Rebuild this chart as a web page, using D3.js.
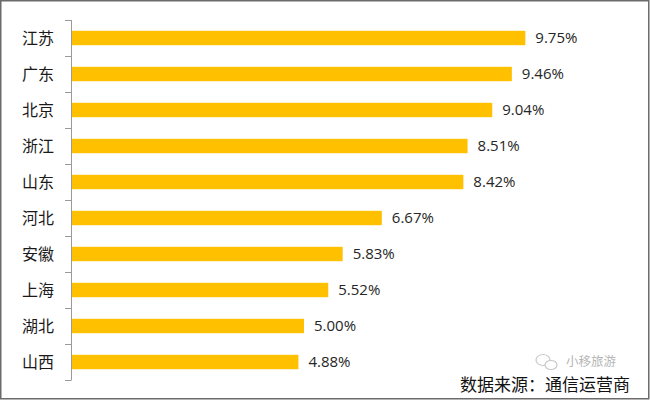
<!DOCTYPE html>
<html>
<head>
<meta charset="utf-8">
<script src="https://cdn.jsdelivr.net/npm/d3@7/dist/d3.min.js"></script>
<style>
  html, body { margin: 0; padding: 0; background: #fff; }
  svg { display: block; }
</style>
</head>
<body>
<svg id="chart" width="650" height="400"></svg>
<script>
const categories = ["江苏", "广东", "北京", "浙江", "山东", "河北", "安徽", "上海", "湖北", "山西"];
const values = [9.75, 9.46, 9.04, 8.51, 8.42, 6.67, 5.83, 5.52, 5.00, 4.88];
const valueLabels = ["9.75%", "9.46%", "9.04%", "8.51%", "8.42%", "6.67%", "5.83%", "5.52%", "5.00%", "4.88%"];
const sourceText = "数据来源：通信运营商";
const watermarkText = "小移旅游";

const svg = d3.select("#chart");
const W = 650, H = 400;

// border
svg.append("rect").attr("x", 0.75).attr("y", 0.75).attr("width", W - 2).attr("height", H - 2)
  .attr("fill", "#fff").attr("stroke", "#6b6b6b").attr("stroke-width", 1.5);

const x = d3.scaleLinear().domain([0, 12]).range([71, 71 + 12 * 46.6]);
const y = d3.scaleBand().domain(categories).range([20, 380]).paddingInner(0.6).paddingOuter(0.3);

// bars
svg.append("g").selectAll("rect").data(categories).join("rect")
  .attr("x", x(0))
  .attr("y", d => y(d))
  .attr("width", (d, i) => x(values[i]) - x(0))
  .attr("height", y.bandwidth())
  .attr("fill", "#FFC000");

// axis line + boundary ticks
const axisG = svg.append("g");
const [r0, r1] = y.range();
axisG.append("line").attr("x1", x(0) + 0.5).attr("x2", x(0) + 0.5).attr("y1", r0).attr("y2", r1)
  .attr("stroke", "#9a9a9a").attr("stroke-width", 1);
d3.range(categories.length + 1).forEach(i => {
  const ty = Math.round(r0 + i * y.step()) + 0.5;
  axisG.append("line").attr("x1", x(0) - 6).attr("x2", x(0) + 0.5).attr("y1", ty).attr("y2", ty)
    .attr("stroke", "#9a9a9a").attr("stroke-width", 1);
});

// category labels
svg.append("g").selectAll("text").data(categories).join("text")
  .attr("x", 54)
  .attr("y", d => y(d) + y.bandwidth() / 2)
  .attr("dy", "0.36em")
  .attr("text-anchor", "end")
  .attr("font-family", "'Noto Sans CJK SC', sans-serif")
  .attr("font-size", 16)
  .attr("fill", "#1a1a1a")
  .text(d => d);

// value labels
svg.append("g").selectAll("text").data(categories).join("text")
  .attr("x", (d, i) => x(values[i]) + 10)
  .attr("y", d => y(d) + y.bandwidth() / 2)
  .attr("dy", "0.36em")
  .attr("font-family", "'Open Sans', sans-serif")
  .attr("font-size", 15)
  .attr("fill", "#262626")
  .text((d, i) => valueLabels[i]);

// watermark icon (two speech bubbles)
const wm = svg.append("g").attr("fill", "none").attr("stroke", "#c8c8c8").attr("stroke-width", 1.2);
wm.append("ellipse").attr("cx", 543).attr("cy", 360).attr("rx", 7).attr("ry", 5.5);
wm.append("ellipse").attr("cx", 551).attr("cy", 365).attr("rx", 6).attr("ry", 4.5).attr("fill", "#fff");
svg.append("text").attr("x", 566).attr("y", 366)
  .attr("font-family", "'Noto Sans CJK SC', sans-serif")
  .attr("font-size", 12.5).attr("fill", "#b5b5b5")
  .text(watermarkText);

// source
svg.append("text").attr("x", 460).attr("y", 391)
  .attr("font-family", "'Noto Sans CJK SC', sans-serif")
  .attr("font-size", 17).attr("fill", "#111")
  .text(sourceText);
</script>
</body>
</html>
